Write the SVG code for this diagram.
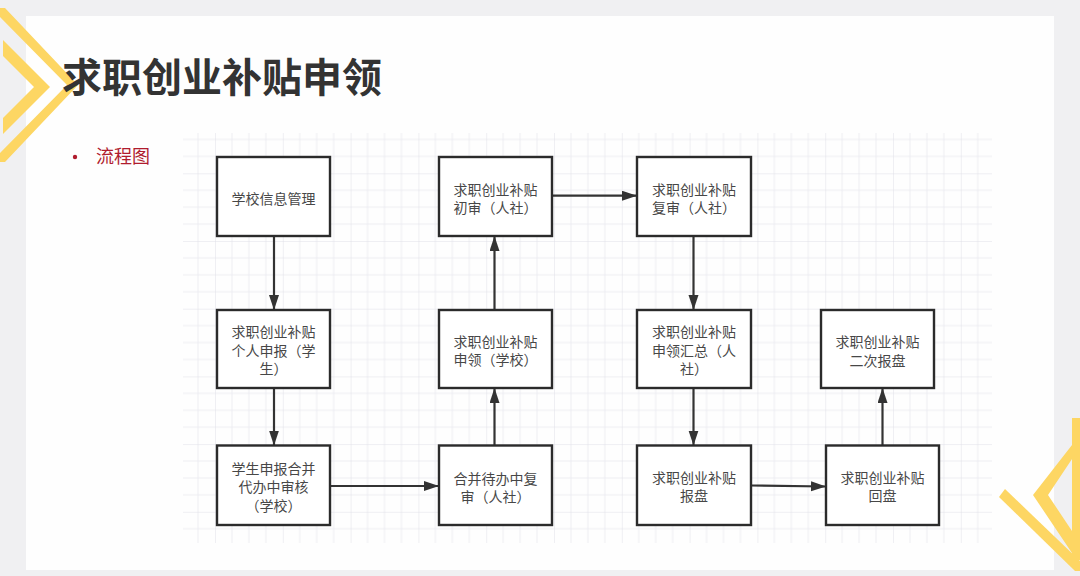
<svg xmlns="http://www.w3.org/2000/svg" width="1080" height="576" viewBox="0 0 1080 576">
<style>
.node rect{fill:#ffffff;stroke:#2b2b2b;stroke-width:2.4}
.node text{font-family:"Noto Sans CJK SC","Noto Sans",sans-serif;font-size:14px;fill:#474747;text-anchor:middle;dominant-baseline:central}
.conn line{stroke:#333333;stroke-width:2.2;fill:none}
.deco{fill:#fdd663}
</style>
<defs>
<marker id="arr" markerUnits="userSpaceOnUse" markerWidth="16" markerHeight="11" refX="15" refY="5" orient="auto">
<path d="M0,0 L15,5 L0,10 z" fill="#333333"/>
</marker>
<pattern id="grid" patternUnits="userSpaceOnUse" x="215" y="173.3" width="67.8" height="67.7">
<path d="M16.95,0 V67.7 M33.9,0 V67.7 M50.85,0 V67.7 M0,16.9 H67.8 M0,33.85 H67.8 M0,50.8 H67.8" stroke="#ededf2" stroke-width="1" fill="none"/>
<path d="M0,0 V67.7 M0,0 H67.8" stroke="#dfdfe7" stroke-width="1" fill="none"/>
</pattern>
</defs>
<rect x="0" y="0" width="1080" height="576" fill="#f0f0f2"/>
<rect x="26" y="16" width="1028" height="554" fill="#fefefe"/>
<g id="decoration-top-left">
<polygon class="deco" points="0,8 5,8 78,85 5,162 0,162 0,153 67,85 0,17"/>
<polygon class="deco" points="3,40 50,87 3,134 3,118 34,87 3,56"/>
</g>
<g id="decoration-bottom-right">
<polygon class="deco" points="1005,489 1080,561 1080,571 1075,571 999,497"/>
<polygon class="deco" points="1072,418 1080,418 1080,560 1072,560 1072,553 1033,495 1072,445 1072,459 1048,495 1072,531"/>
</g>
<text id="title" x="62" y="92" font-family="'Noto Sans CJK SC',sans-serif" font-size="40" font-weight="700" fill="#333333">求职创业补贴申领</text>
<circle cx="75" cy="157" r="2.2" fill="#b01c2e"/>
<text id="subtitle" x="96" y="162.5" font-family="'Noto Sans CJK SC',sans-serif" font-size="18" fill="#b01c2e">流程图</text>
<rect id="grid-bg" x="183" y="133" width="809" height="410" fill="url(#grid)"/>
<g id="connectors" class="conn">
<line x1="274" y1="236" x2="274" y2="310" marker-end="url(#arr)"/>
<line x1="274" y1="388" x2="274" y2="445.5" marker-end="url(#arr)"/>
<line x1="330" y1="486" x2="439" y2="486" marker-end="url(#arr)"/>
<line x1="494.5" y1="445.5" x2="494.5" y2="388" marker-end="url(#arr)"/>
<line x1="494.5" y1="310" x2="494.5" y2="236" marker-end="url(#arr)"/>
<line x1="552" y1="195.7" x2="637" y2="195.7" marker-end="url(#arr)"/>
<line x1="693.5" y1="236" x2="693.5" y2="310" marker-end="url(#arr)"/>
<line x1="693.5" y1="388" x2="693.5" y2="445.5" marker-end="url(#arr)"/>
<line x1="751" y1="485.5" x2="826" y2="486.5" marker-end="url(#arr)"/>
<line x1="882.5" y1="445.5" x2="882.5" y2="388" marker-end="url(#arr)"/>
</g>
<g id="node-school-info" class="node">
<rect x="217" y="157" width="113" height="79"/>
<text x="273.5" y="197.5">学校信息管理</text>
</g>
<g id="node-student-apply" class="node">
<rect x="217" y="310" width="113" height="78"/>
<text x="273.5" y="331.3">求职创业补贴</text>
<text x="273.5" y="349.7">个人申报（学</text>
<text x="273.5" y="368.1">生）</text>
</g>
<g id="node-school-review" class="node">
<rect x="217" y="445.5" width="113" height="79.5"/>
<text x="273.5" y="468">学生申报合并</text>
<text x="273.5" y="486.4">代办中审核</text>
<text x="273.5" y="504.8">（学校）</text>
</g>
<g id="node-first-review" class="node">
<rect x="439" y="157" width="113" height="79"/>
<text x="495.5" y="189">求职创业补贴</text>
<text x="495.5" y="207.4">初审（人社）</text>
</g>
<g id="node-school-claim" class="node">
<rect x="439" y="310" width="113" height="78"/>
<text x="495.5" y="341">求职创业补贴</text>
<text x="495.5" y="359.4">申领（学校）</text>
</g>
<g id="node-merged-review" class="node">
<rect x="439" y="445.5" width="113" height="79.5"/>
<text x="495.5" y="477.8">合并待办中复</text>
<text x="495.5" y="496.2">审（人社）</text>
</g>
<g id="node-second-review" class="node">
<rect x="637" y="157" width="114" height="79"/>
<text x="694" y="188.7">求职创业补贴</text>
<text x="694" y="207.1">复审（人社）</text>
</g>
<g id="node-summary" class="node">
<rect x="637" y="310" width="114" height="78"/>
<text x="694" y="331.3">求职创业补贴</text>
<text x="694" y="349.7">申领汇总（人</text>
<text x="694" y="368.1">社）</text>
</g>
<g id="node-resubmit" class="node">
<rect x="821" y="310" width="113" height="78"/>
<text x="877.5" y="341.2">求职创业补贴</text>
<text x="877.5" y="359.6">二次报盘</text>
</g>
<g id="node-submit" class="node">
<rect x="637" y="445.5" width="114" height="79.5"/>
<text x="694" y="477">求职创业补贴</text>
<text x="694" y="495.4">报盘</text>
</g>
<g id="node-return" class="node">
<rect x="826" y="445.5" width="113" height="79.5"/>
<text x="882.5" y="477">求职创业补贴</text>
<text x="882.5" y="495.4">回盘</text>
</g>
</svg>
